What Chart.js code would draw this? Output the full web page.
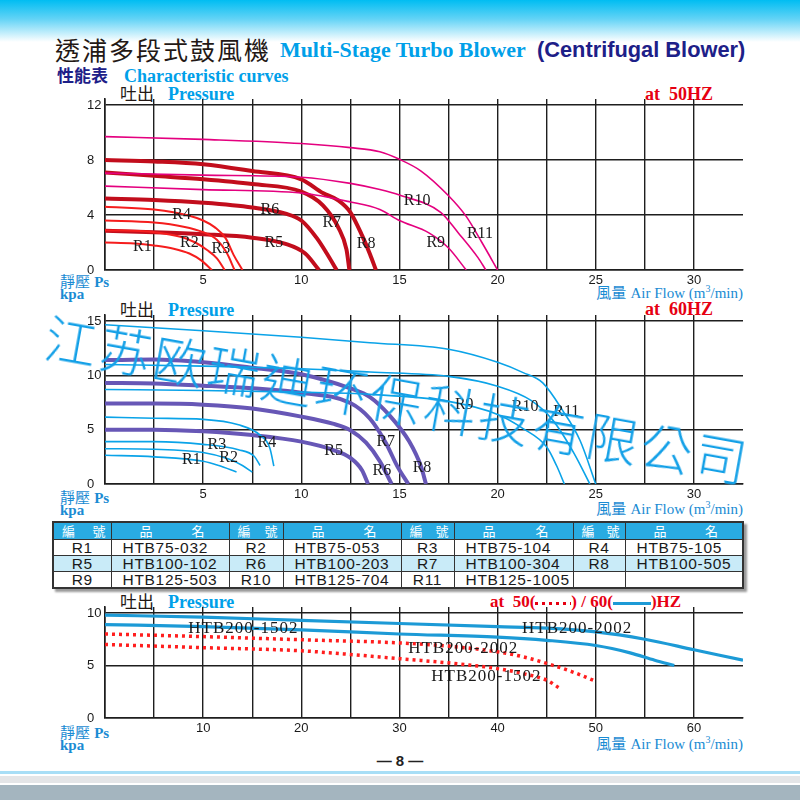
<!DOCTYPE html>
<html lang="zh-Hant">
<head>
<meta charset="utf-8">
<title>Multi-Stage Turbo Blower</title>
<script src="https://cdn.jsdelivr.net/npm/chart.js@4.4.1/dist/chart.umd.min.js"></script>
<style>
  html, body { margin: 0; padding: 0; }
  body { width: 800px; height: 800px; position: relative; overflow: hidden; background: #fff;
         font-family: "Liberation Sans", Arial, sans-serif; }
  .a { position: absolute; white-space: nowrap; line-height: 1; }
  .serif { font-family: "Liberation Serif", "Times New Roman", serif; }
  .cjk { font-family: "Noto Sans CJK TC", sans-serif; }
  .cyan { color: #00a0e9; }
  .blue { color: #1a8bd3; }
  .red { color: #e60012; }
  canvas { position: absolute; }
  .band { position: absolute; left: 0; width: 800px; }
  #topband { top: 0; height: 42px; background: linear-gradient(#00bdf2, #62d3f6 45%, #fff); }
  #tbl { position: absolute; left: 52px; top: 521px; border-collapse: collapse; table-layout: fixed;
         border: 2px solid #333; box-shadow: 3px 3px 2px #9a9a9a; }
  #tbl td { border: 1px solid #333; padding: 0; font-size: 15.5px; letter-spacing: 0.7px; color: #1a1a1a;
            height: 15px; line-height: 15px; overflow: hidden; }
  #tbl td.code { text-align: center; }
  #tbl td.name { padding-left: 11px; }
  #tbl tr.head td { background: #29abe2; color: #fff; font-family: "Noto Sans CJK TC", sans-serif; font-size: 13px;
                    letter-spacing: 0; height: 16px; line-height: 16px; text-align: justify; text-align-last: justify; }
  #tbl tr.head td.code { padding: 0 5px 0 8px; }
  #tbl tr.head td.name { padding: 0 24px 0 28px; }
  #tbl tr.tint td { background: #c9ebf8; }
  #mark { left: 46px; top: 309px; font-family: "Noto Sans CJK SC", sans-serif; font-size: 52px; font-weight: 300;
          letter-spacing: 3px; color: #13a0e7; transform-origin: 0 50%; transform: rotate(10.2deg); z-index: 5; }
  .dots { display: inline-block; width: 36px; height: 3px; vertical-align: middle;
          background: repeating-linear-gradient(90deg, #e60012 0 3px, transparent 3px 7px); }
  .solid { display: inline-block; width: 38px; height: 3px; vertical-align: middle; background: #1c9ad6; }
</style>
</head>
<body>
<div id="topband" class="band"></div>

<div class="a cjk" style="left:55px;top:37px;font-size:25px;letter-spacing:2px;color:#231815">透浦多段式鼓風機</div>
<div class="a serif cyan" style="left:280px;top:39px;font-size:21.9px;font-weight:bold">Multi-Stage Turbo Blower</div>
<div class="a" style="left:537px;top:39px;font-size:21.8px;font-weight:bold;color:#1d2088">(Centrifugal Blower)</div>

<div class="a cjk" style="left:57px;top:66px;font-size:17px;font-weight:bold;color:#1d2088">性能表</div>
<div class="a serif cyan" style="left:124px;top:67px;font-size:18px;font-weight:bold">Characteristic curves</div>

<!-- chart 1 texts -->
<div class="a cjk" style="left:120px;top:84px;font-size:17px;color:#231815">吐出</div>
<div class="a serif cyan" style="left:168px;top:85px;font-size:18px;font-weight:bold">Pressure</div>
<div class="a serif red" style="left:645px;top:85px;font-size:18px;font-weight:bold">at&nbsp;&nbsp;50HZ</div>
<div class="a blue" style="left:60px;top:273px;font-size:15px"><span class="cjk">靜壓</span> <span class="serif" style="font-weight:bold">Ps</span></div>
<div class="a blue serif" style="left:60px;top:287px;font-size:15px;font-weight:bold">kpa</div>
<div class="a blue" style="right:57px;top:284px;font-size:15px"><span class="cjk">風量</span>&nbsp;<span class="serif">Air Flow (m<sup style="font-size:10px">3</sup>/min)</span></div>

<!-- chart 2 texts -->
<div class="a cjk" style="left:120px;top:300px;font-size:17px;color:#231815">吐出</div>
<div class="a serif cyan" style="left:168px;top:301px;font-size:18px;font-weight:bold">Pressure</div>
<div class="a serif red" style="left:645px;top:300px;font-size:18px;font-weight:bold">at&nbsp;&nbsp;60HZ</div>
<div class="a blue" style="left:60px;top:489px;font-size:15px"><span class="cjk">靜壓</span> <span class="serif" style="font-weight:bold">Ps</span></div>
<div class="a blue serif" style="left:60px;top:503px;font-size:15px;font-weight:bold">kpa</div>
<div class="a blue" style="right:57px;top:500px;font-size:15px"><span class="cjk">風量</span>&nbsp;<span class="serif">Air Flow (m<sup style="font-size:10px">3</sup>/min)</span></div>

<table id="tbl"></table>

<!-- chart 3 texts -->
<div class="a cjk" style="left:120px;top:592px;font-size:17px;color:#231815">吐出</div>
<div class="a serif cyan" style="left:168px;top:593px;font-size:18px;font-weight:bold">Pressure</div>
<div class="a serif red" style="left:490px;top:593px;font-size:17px;font-weight:bold">at&nbsp;&nbsp;50(<span class="dots"></span>) / 60(<span class="solid"></span>)HZ</div>
<div class="a blue" style="left:60px;top:724px;font-size:15px"><span class="cjk">靜壓</span> <span class="serif" style="font-weight:bold">Ps</span></div>
<div class="a blue serif" style="left:60px;top:738px;font-size:15px;font-weight:bold">kpa</div>
<div class="a blue" style="right:57px;top:735px;font-size:15px"><span class="cjk">風量</span>&nbsp;<span class="serif">Air Flow (m<sup style="font-size:10px">3</sup>/min)</span></div>

<div class="a" style="left:0;width:800px;text-align:center;top:753px;font-size:15px;font-weight:bold;color:#222">— 8 —</div>

<div class="band" style="top:771px;height:3px;background:#a8def6"></div>
<div class="band" style="top:776px;height:7px;background:#e4e5e7"></div>
<div class="band" style="top:785px;height:15px;background:#a4b5bf"></div>

<canvas id="c50"></canvas>
<canvas id="c60"></canvas>
<canvas id="cBig"></canvas>

<div id="mark" class="a">江苏欧瑞迪环保科技有限公司</div>

<script>
// ---- curve data, [air flow m3/min, static pressure kPa] ----
// 50 Hz sheet
const r1_50 = [[0, 2.0], [1.5, 1.93], [2.5, 1.78], [3.5, 1.55], [4.3, 1.2], [4.9, 0.7], [5.45, 0]];
const r2_50 = [[0, 2.9], [2.5, 2.75], [3.9, 2.4], [4.6, 2.0], [5.2, 1.45], [5.7, 0.85], [6.1, 0]];
const r3_50 = [[0, 3.6], [2.5, 3.45], [4, 3.15], [5, 2.75], [5.7, 2.2], [6.2, 1.25], [6.6, 0]];
const r4_50 = [[0, 4.6], [2.5, 4.4], [4.3, 3.95], [5, 3.6], [5.6, 3.1], [6.15, 2.3], [6.55, 1.1], [7.0, 0]];
const r5_50 = [[0, 2.85], [2.5, 2.75], [5, 2.6], [7.5, 2.35], [9.2, 1.9], [10.2, 1.2], [10.9, 0]];
const r6_50 = [[0, 5.2], [2.5, 5.1], [5, 4.9], [7.5, 4.55], [9.2, 4.1], [10, 3.6], [10.8, 2.3], [11.3, 1.2], [11.8, 0]];
const r7_50 = [[0, 7.1], [2.5, 6.85], [5, 6.6], [7.5, 6.25], [10, 5.7], [11.1, 4.7], [11.9, 3.05], [12.3, 1.5], [12.45, 0]];
const r8_50 = [[0, 8.0], [2.5, 7.9], [5, 7.7], [7.5, 7.2], [10, 6.6], [11.1, 5.6], [11.9, 5.05], [12.5, 4.2], [13.1, 2.5], [13.5, 1.15], [13.8, 0]];
const r9_50 = [[0, 6.1], [5, 5.85], [10, 5.6], [12.5, 4.95], [14, 4.4], [15, 3.6], [16.5, 2.7], [17.5, 1.6], [18.4, 0]];
const r10_50 = [[0, 7.05], [5, 6.9], [10, 6.75], [12.5, 6.3], [14, 5.85], [15, 5.45], [17.1, 4.2], [18, 2.7], [19, 0.9], [19.4, 0]];
const r11_50 = [[0, 9.7], [5, 9.5], [10, 9.2], [12.5, 8.9], [14, 8.6], [15, 8.05], [16.1, 7.2], [17.5, 5.4], [18.4, 3.9], [19.2, 2.0], [20, 0]];

// 60 Hz sheet
const r1_60 = [[0, 2.65], [2.5, 2.5], [5, 2.1], [5.8, 1.7], [6.7, 1.1]];
const r2_60 = [[0, 3.25], [2.5, 3.2], [5, 2.9], [6.3, 2.3], [7.0, 1.7], [7.5, 1.1]];
const r3_60 = [[0, 3.9], [2.5, 3.9], [5, 3.65], [6.8, 3.15], [7.6, 2.55], [7.9, 1.7]];
const r4_60 = [[0, 6.15], [2.5, 6.05], [5, 5.95], [6.8, 5.45], [7.9, 4.5], [8.4, 3.3], [8.6, 1.65]];
const r5_60 = [[0, 5.0], [2.5, 5.0], [5, 4.85], [7.5, 4.5], [10, 3.9], [11.6, 3.15], [12.5, 2.4], [13.1, 1.25], [13.4, 0]];
const r6_60 = [[0, 7.4], [2.5, 7.4], [5, 7.3], [7.5, 6.95], [10, 6.2], [11.6, 5.55], [12.5, 4.95], [13.3, 3.8], [14, 2.1], [14.6, 0]];
const r7_60 = [[0, 9.3], [2.5, 9.25], [5, 9.05], [7.5, 8.8], [10, 8.4], [12.5, 7.45], [13.5, 6.0], [14.3, 3.8], [14.9, 1.6], [15.45, 0]];
const r8_60 = [[0, 11.4], [2.5, 11.45], [5, 11.2], [7.5, 10.7], [10, 10.1], [12.5, 8.8], [13.5, 8.0], [14.5, 6.3], [15.5, 3.9], [16.1, 1.6], [16.35, 0]];
const r9_60 = [[0, 8.7], [5, 8.6], [10, 8.45], [13.5, 8.25], [17.5, 7.6], [20, 6.4], [21.3, 5.1], [22.5, 3.4], [23.0, 1.7], [23.4, 0]];
const r10_60 = [[0, 11.0], [5, 10.85], [10, 10.6], [13.5, 10.3], [17.5, 9.9], [20, 9.0], [21.7, 7.7], [22.8, 5.9], [23.9, 2.8], [24.7, 0]];
const r11_60 = [[0, 14.65], [5, 14.1], [10, 13.5], [13.5, 13.0], [17.5, 12.4], [20, 11.2], [21.3, 10.25], [22.3, 9.3], [23.3, 6.8], [24.2, 4.0], [25, 0]];

// HTB200 sheet, solid = 60 Hz, dotted = 50 Hz
const htb2002_60 = [[0, 9.8], [10, 9.6], [20, 9.3], [30, 9.0], [40, 8.7], [45, 8.55], [50, 8.2], [55, 7.5], [60, 6.5], [65, 5.5]];
const htb1502_60 = [[0, 8.9], [10, 8.7], [20, 8.4], [30, 8.0], [40, 7.7], [45, 7.4], [50, 6.9], [53.5, 6.2], [56, 5.5], [58, 5.0]];
const htb2002_50 = [[0, 8.0], [10, 7.75], [20, 7.45], [30, 7.15], [35.5, 6.8], [40, 6.3], [42.5, 5.85], [45, 5.2], [47.6, 4.4], [50, 3.5]];
const htb1502_50 = [[0, 7.0], [10, 6.7], [20, 6.4], [25, 6.05], [30, 5.65], [35.5, 5.2], [40, 4.7], [42.5, 4.25], [45, 3.6], [46.3, 2.85]];

// curve tags (name + where it is printed, in data units)
const tagNames = ['R1', 'R2', 'R3', 'R4', 'R5', 'R6', 'R7', 'R8', 'R9', 'R10', 'R11'];
const tagFlow50 = [1.9, 4.3, 5.9, 3.9, 8.6, 8.4, 11.55, 13.3, 16.85, 15.9, 19.1];
const tagPres50 = [1.7, 2.0, 1.55, 4.0, 2.0, 4.4, 3.4, 1.9, 2.0, 5.0, 2.6];
const tagFlow60 = [4.4, 6.3, 5.7, 8.25, 11.65, 14.1, 14.3, 16.15, 18.3, 21.4, 23.5];
const tagPres60 = [2.2, 2.4, 3.65, 3.75, 3.1, 1.25, 3.85, 1.45, 7.25, 7.1, 6.6];
const bigNames = ['HTB200-1502', 'HTB200-2002', 'HTB200-2002', 'HTB200-1502'];
const bigFlow = [14.1, 48.1, 36.5, 38.85];
const bigPres = [8.5, 8.5, 6.6, 3.95];

// axis ticks
const flowGrid = [0, 2.5, 5, 7.5, 10, 12.5, 15, 17.5, 20, 22.5, 25, 27.5, 30];
const flowLabels = [5, 10, 15, 20, 25, 30];
const presTicks50 = [0, 4, 8, 12];
const presTicks60 = [0, 5, 10, 15];
const bigFlowGrid = [0, 5, 10, 15, 20, 25, 30, 35, 40, 45, 50, 55, 60];
const bigFlowLabels = [10, 20, 30, 40, 50, 60];
const bigPresTicks = [0, 5, 10];

// model table
const modelCodes = ['R1', 'R2', 'R3', 'R4', 'R5', 'R6', 'R7', 'R8', 'R9', 'R10', 'R11'];
const modelNames = ['HTB75-032', 'HTB75-053', 'HTB75-104', 'HTB75-105',
                    'HTB100-102', 'HTB100-203', 'HTB100-304', 'HTB100-505',
                    'HTB125-503', 'HTB125-704', 'HTB125-1005'];

// ---- table ----
const tbl = document.getElementById('tbl');
let html = '<colgroup>' + [58, 118, 54, 118, 53, 119, 52, 118].map(w => `<col style="width:${w}px">`).join('') + '</colgroup>';
html += '<tr class="head">' + '<td class="code">編 號</td><td class="name">品 名</td>'.repeat(4) + '</tr>';
for (let r = 0; r < 3; r++) {
  html += `<tr class="${r === 1 ? 'tint' : ''}">`;
  for (let c = 0; c < 4; c++) {
    const i = r * 4 + c;
    html += `<td class="code">${modelCodes[i] || ''}</td><td class="name">${modelNames[i] || ''}</td>`;
  }
  html += '</tr>';
}
tbl.innerHTML = html;

// ---- charts ----
const tagPlugin = {
  id: 'tags',
  afterDatasetsDraw(chart, args, opts) {
    const { ctx, scales: { x, y } } = chart;
    ctx.save();
    ctx.font = opts.font;
    ctx.fillStyle = '#1a1a1a';
    ctx.textAlign = 'center';
    ctx.textBaseline = 'middle';
    if (opts.spacing) ctx.letterSpacing = opts.spacing;
    opts.names.forEach((t, i) => {
      ctx.fillText(t, x.getPixelForValue(opts.xs[i]), y.getPixelForValue(opts.ys[i]));
    });
    ctx.restore();
  }
};

function curve(pts, color, width, dash) {
  return {
    data: pts.map(p => ({ x: p[0], y: p[1] })),
    borderColor: color,
    borderWidth: width,
    borderDash: dash || [],
    borderCapStyle: 'butt',
    pointRadius: 0,
    fill: false,
    cubicInterpolationMode: 'monotone'
  };
}

const gridColor = '#1e1e1e';

function makeChart(id, top, height, cfg) {
  const cv = document.getElementById(id);
  cv.width = 692;
  cv.height = height;
  cv.style.left = '55px';
  cv.style.top = top + 'px';
  return new Chart(cv, {
    type: 'line',
    data: { datasets: cfg.datasets },
    plugins: [tagPlugin],
    options: {
      responsive: false,
      animation: false,
      events: [],
      layout: { padding: { left: 32, top: 10, right: 4, bottom: 0 } },
      plugins: {
        legend: { display: false },
        tooltip: { enabled: false },
        tags: cfg.tags
      },
      scales: {
        x: {
          type: 'linear',
          min: 0,
          max: cfg.xMax,
          afterBuildTicks: s => { s.ticks = cfg.xGrid.map(v => ({ value: v })); },
          afterFit: s => { s.height = 26; s.paddingLeft = 0; s.paddingRight = 0; },
          ticks: {
            autoSkip: false,
            maxRotation: 0,
            padding: 3,
            color: '#1a1a1a',
            font: { family: '"Liberation Sans", Arial, sans-serif', size: 13 },
            callback: v => cfg.xLabels.includes(v) ? String(v) : ''
          },
          grid: { color: gridColor, lineWidth: 1.4, drawTicks: false },
          border: { display: true, color: gridColor, width: 1.6 }
        },
        y: {
          type: 'linear',
          min: 0,
          max: cfg.yMax,
          afterBuildTicks: s => { s.ticks = cfg.yTicks.map(v => ({ value: v })); },
          afterFit: s => { s.width = 18; s.paddingTop = 0; s.paddingBottom = 0; },
          ticks: {
            crossAlign: 'far',
            padding: 4,
            color: '#1a1a1a',
            font: { family: '"Liberation Sans", Arial, sans-serif', size: 13 },
            callback: v => String(v)
          },
          grid: { color: gridColor, lineWidth: 1.4, drawTicks: false },
          border: { display: true, color: gridColor, width: 1.6 }
        }
      }
    }
  });
}

const thinRed = '#f51d1d', darkRed = '#c20d1c', pink = '#e4007f';
makeChart('c50', 89, 207, {
  xMax: 32.5, yMax: 12.44, xGrid: flowGrid, xLabels: flowLabels, yTicks: presTicks50,
  datasets: [
    curve(r11_50, pink, 1.6), curve(r10_50, pink, 1.6), curve(r9_50, pink, 1.6),
    curve(r1_50, thinRed, 2), curve(r2_50, thinRed, 2), curve(r3_50, thinRed, 2), curve(r4_50, thinRed, 2),
    curve(r5_50, darkRed, 4), curve(r6_50, darkRed, 4), curve(r7_50, darkRed, 4), curve(r8_50, darkRed, 4)
  ],
  tags: { names: tagNames, xs: tagFlow50, ys: tagPres50, font: '16px "Liberation Serif", serif' }
});

const skyBlue = '#0aa3e8', purple = '#6757b6';
makeChart('c60', 305, 205, {
  xMax: 32.5, yMax: 15.55, xGrid: flowGrid, xLabels: flowLabels, yTicks: presTicks60,
  datasets: [
    curve(r11_60, skyBlue, 1.6), curve(r10_60, skyBlue, 1.6), curve(r9_60, skyBlue, 1.6),
    curve(r1_60, skyBlue, 1.6), curve(r2_60, skyBlue, 1.6), curve(r3_60, skyBlue, 1.6), curve(r4_60, skyBlue, 1.6),
    curve(r5_60, purple, 4), curve(r6_60, purple, 4), curve(r7_60, purple, 4), curve(r8_60, purple, 4)
  ],
  tags: { names: tagNames, xs: tagFlow60, ys: tagPres60, font: '16px "Liberation Serif", serif' }
});

const solidBlue = '#1c9ad6', dotRed = '#ff1e1e';
makeChart('cBig', 597, 147, {
  xMax: 65, yMax: 10.57, xGrid: bigFlowGrid, xLabels: bigFlowLabels, yTicks: bigPresTicks,
  datasets: [
    curve(htb2002_60, solidBlue, 3.2), curve(htb1502_60, solidBlue, 3.2),
    curve(htb2002_50, dotRed, 3.5, [3, 4]), curve(htb1502_50, dotRed, 3.5, [3, 4])
  ],
  tags: { names: bigNames, xs: bigFlow, ys: bigPres, font: '17px "Liberation Serif", serif', spacing: '1px' }
});
</script>
</body>
</html>
